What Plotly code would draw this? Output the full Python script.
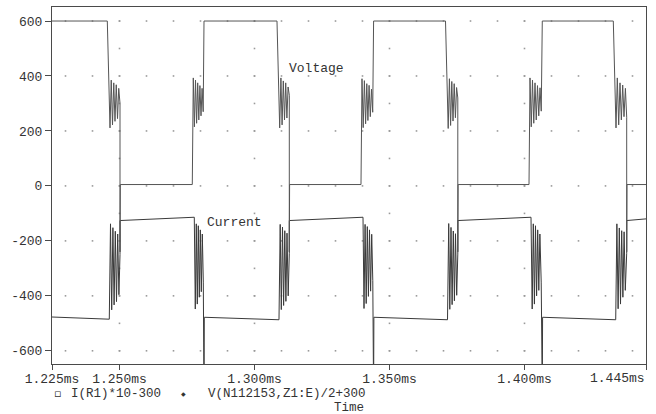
import plotly.graph_objects as go

# ---------------- data (time in ms) ----------------
T_V = [1.22500, 1.24548, 1.24648, 1.24694, 1.24741, 1.24787, 1.24833, 1.24880, 1.24926, 1.24972,
       1.25019, 1.25019, 1.25030, 1.27696, 1.27733, 1.27774, 1.27815, 1.27856, 1.27896, 1.27937,
       1.27978, 1.28019, 1.28059, 1.28100, 1.28130, 1.30833, 1.30933, 1.30978, 1.31022, 1.31067,
       1.31111, 1.31156, 1.31200, 1.31244, 1.31289, 1.31289, 1.31300, 1.33944, 1.33981, 1.34026,
       1.34070, 1.34115, 1.34159, 1.34200, 1.34244, 1.34289, 1.34333, 1.34378, 1.34411, 1.37074,
       1.37174, 1.37219, 1.37263, 1.37307, 1.37352, 1.37396, 1.37441, 1.37485, 1.37530, 1.37530,
       1.37541, 1.40167, 1.40204, 1.40250, 1.40296, 1.40343, 1.40389, 1.40435, 1.40481, 1.40528,
       1.40574, 1.40620, 1.40659, 1.43289, 1.43389, 1.43437, 1.43489, 1.43537, 1.43587, 1.43637,
       1.43685, 1.43737, 1.43785, 1.43785, 1.43796, 1.44500]
V_VALUES = [600, 600, 211, 385, 222, 375, 235, 368, 245, 355,
            300, -240, 5, 5, 393, 215, 385, 228, 375, 240,
            365, 255, 355, 270, 600, 600, 211, 393, 222, 382,
            240, 375, 247, 360, 330, -240, 5, 5, 390, 212,
            383, 226, 372, 238, 366, 252, 352, 268, 600, 600,
            209, 390, 220, 380, 236, 372, 248, 358, 320, -240,
            5, 5, 393, 215, 385, 228, 375, 240, 365, 255,
            357, 272, 600, 600, 211, 393, 222, 375, 240, 367,
            252, 355, 250, -240, 5, 5]

T_I = [1.22500, 1.24622, 1.24667, 1.24711, 1.24756, 1.24800, 1.24844, 1.24889, 1.24933, 1.24978,
       1.25019, 1.25019, 1.27770, 1.27807, 1.27844, 1.27881, 1.27919, 1.27956, 1.27993, 1.28030,
       1.28067, 1.28104, 1.28130, 1.28141, 1.30907, 1.30952, 1.30993, 1.31037, 1.31078, 1.31122,
       1.31163, 1.31204, 1.31248, 1.31289, 1.31289, 1.34019, 1.34056, 1.34096, 1.34137, 1.34178,
       1.34219, 1.34259, 1.34300, 1.34341, 1.34381, 1.34411, 1.34422, 1.37148, 1.37193, 1.37233,
       1.37278, 1.37319, 1.37363, 1.37404, 1.37444, 1.37489, 1.37530, 1.37530, 1.40241, 1.40285,
       1.40326, 1.40367, 1.40407, 1.40448, 1.40489, 1.40530, 1.40570, 1.40619, 1.40659, 1.40670,
       1.43378, 1.43422, 1.43467, 1.43511, 1.43556, 1.43600, 1.43644, 1.43689, 1.43733, 1.43785,
       1.43785, 1.44500]
I_VALUES = [-477, -485, -138, -451, -152, -433, -165, -421, -175, -396,
            -250, -126, -114, -448, -138, -430, -145, -405, -160, -385,
            -175, -350, -760, -478, -487, -140, -450, -150, -435, -163,
            -420, -172, -400, -245, -126, -114, -446, -140, -428, -148,
            -402, -160, -383, -176, -345, -760, -478, -487, -137, -449,
            -151, -432, -164, -418, -174, -398, -248, -126, -114, -448,
            -138, -430, -145, -400, -160, -380, -175, -350, -760, -478,
            -487, -138, -447, -153, -430, -163, -405, -167, -380, -245,
            -126, -120]

X_TICK_VALS = [1.225, 1.25, 1.30, 1.35, 1.40, 1.445]
X_TICK_TEXT = ["1.225ms", "1.250ms", "1.300ms", "1.350ms", "1.400ms", ""]
Y_TICK_VALS = [-600, -400, -200, 0, 200, 400, 600]
Y_TICK_TEXT = ["-600", "-400", "-200", "0", "200", "400", "600"]

GRID_X_MINOR = [1.23, 1.24, 1.25, 1.26, 1.27, 1.28, 1.29, 1.30, 1.31, 1.32, 1.33,
                1.34, 1.35, 1.36, 1.37, 1.38, 1.39, 1.40, 1.41, 1.42, 1.43, 1.44]
GRID_X_MAJOR = [1.25, 1.30, 1.35, 1.40]
GRID_Y_MAJOR = [-600, -400, -200, 0, 200, 400, 600]
GRID_Y_MINOR = [-600, -500, -400, -300, -200, -100, 0, 100, 200, 300, 400, 500, 600]

LEGEND_I = "I(R1)*10-300"
LEGEND_V = "V(N112153,Z1:E)/2+300"

FONT = "Liberation Mono, Courier New, monospace"
FS = 13
FSB = 12.5
TXT = "#333333"
AX = "#4a4a4a"

# ---------------- figure ----------------
gx, gy = [], []
for yv in GRID_Y_MAJOR:
    for xv in GRID_X_MINOR:
        gx.append(xv); gy.append(yv)
for xv in GRID_X_MAJOR:
    for yv in GRID_Y_MINOR:
        gx.append(xv); gy.append(yv)

fig = go.Figure()
fig.add_trace(go.Scatter(x=gx, y=gy, mode="markers",
                         marker=dict(symbol="square", size=1.6, color="#9a9a9a", line=dict(width=0)),
                         hoverinfo="skip", showlegend=False))
fig.add_trace(go.Scatter(x=T_I, y=I_VALUES, mode="lines", name=LEGEND_I,
                         line=dict(color="#3a3a3a", width=1, simplify=False), showlegend=False))
fig.add_trace(go.Scatter(x=T_V, y=V_VALUES, mode="lines", name=LEGEND_V,
                         line=dict(color="#555555", width=1, simplify=False), showlegend=False))

fig.update_layout(
    width=656, height=414, autosize=False,
    margin=dict(l=52, r=10, t=7, b=50, pad=0),
    paper_bgcolor="white", plot_bgcolor="white",
    font=dict(family=FONT, size=FS, color=TXT),
    xaxis=dict(range=[1.225, 1.445], tickmode="array", tickvals=X_TICK_VALS, ticktext=X_TICK_TEXT,
               ticks="outside", ticklen=5, tickwidth=1, tickcolor=AX, ticklabelstandoff=-3,
               showline=True, linecolor=AX, linewidth=1, mirror=True,
               showgrid=False, zeroline=False, automargin=False,
               tickfont=dict(family=FONT, size=FS, color=TXT)),
    yaxis=dict(range=[-648, 651], tickmode="array", tickvals=Y_TICK_VALS, ticktext=Y_TICK_TEXT,
               ticks="outside", ticklen=6, tickwidth=1, tickcolor=AX,
               showline=True, linecolor=AX, linewidth=1, mirror=True,
               showgrid=False, zeroline=False, automargin=False,
               tickfont=dict(family=FONT, size=FS, color=TXT)),
)

LEG_Y = -0.0835
annotations = [
    dict(x=1.31215, y=427, xref="x", yref="y", text="Voltage", showarrow=False,
         xanchor="left", yanchor="middle", font=dict(family=FONT, size=FS, color=TXT)),
    dict(x=1.28167, y=-133, xref="x", yref="y", text="Current", showarrow=False,
         xanchor="left", yanchor="middle", font=dict(family=FONT, size=FS, color=TXT)),
    dict(x=1.445, y=0, xref="x", yref="paper", yshift=-14, text="1.445ms", showarrow=False,
         xanchor="right", yanchor="middle", borderpad=0, font=dict(family=FONT, size=FS, color=TXT)),
    # legend
    dict(x=0.0085, y=LEG_Y, xref="paper", yref="paper", text="▫", showarrow=False,
         xanchor="center", yanchor="middle", borderpad=0, font=dict(family="DejaVu Sans", size=11, color=TXT)),
    dict(x=0.0303, y=LEG_Y, xref="paper", yref="paper", text=LEGEND_I, showarrow=False,
         xanchor="left", yanchor="middle", borderpad=0, font=dict(family=FONT, size=FSB, color=TXT)),
    dict(x=0.222, y=LEG_Y, xref="paper", yref="paper", text="◆", showarrow=False,
         xanchor="center", yanchor="middle", borderpad=0, font=dict(family="DejaVu Sans", size=6, color=TXT)),
    dict(x=0.5303, y=LEG_Y, xref="paper", yref="paper", text=LEGEND_V, showarrow=False,
         xanchor="right", yanchor="middle", borderpad=0, font=dict(family=FONT, size=FSB, color=TXT)),
    dict(x=0.5000, y=-0.1225, xref="paper", yref="paper", text="Time", showarrow=False,
         xanchor="center", yanchor="middle", borderpad=0, font=dict(family=FONT, size=FSB, color=TXT)),
]
fig.update_layout(annotations=annotations)

fig.write_html("out.html")
